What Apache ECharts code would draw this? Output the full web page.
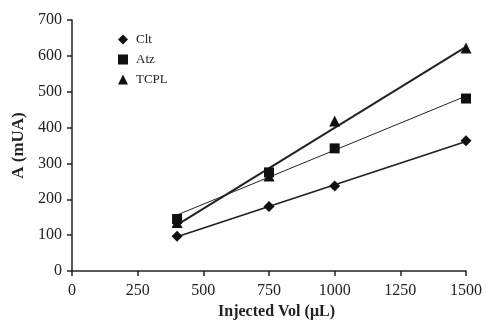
<!DOCTYPE html>
<html><head><meta charset="utf-8">
<script src="https://cdn.jsdelivr.net/npm/echarts@6/dist/echarts.min.js"></script>
<style>html,body{margin:0;padding:0;background:#fff}#c{width:486px;height:320px}</style>
</head><body><div id="c"></div>
<script>
const volumes = [400, 750, 1000, 1500];
const clt = [97, 180, 237, 363];
const atz = [145, 275, 342, 481];
const tcpl = [135, 265, 418, 622];
const xTicks = [0, 250, 500, 750, 1000, 1250, 1500];
const yTicks = [0, 100, 200, 300, 400, 500, 600, 700];

function fit(xs, ys) {
  const n = xs.length;
  const mx = xs.reduce((a, b) => a + b, 0) / n;
  const my = ys.reduce((a, b) => a + b, 0) / n;
  let sxy = 0, sxx = 0;
  for (let i = 0; i < n; i++) { sxy += (xs[i] - mx) * (ys[i] - my); sxx += (xs[i] - mx) ** 2; }
  const b = sxy / sxx, a = my - b * mx;
  const x0 = xs[0], x1 = xs[n - 1];
  return [[x0, a + b * x0], [x1, a + b * x1]];
}
const pts = (ys) => volumes.map((v, i) => [v, ys[i]]);
const diamond = 'path://M0,-1L1,0L0,1L-1,0Z';
const font = '"Liberation Serif", "DejaVu Serif", serif';
const mark = { color: '#111', opacity: 1 };

const chart = echarts.init(document.getElementById('c'));
chart.setOption({
  animation: false,
  textStyle: { fontFamily: font, color: '#222' },
  grid: { left: 72, right: 20, top: 20, bottom: 49, containLabel: false, outerBoundsMode: 'none' },
  legend: {
    orient: 'vertical', left: 113, top: 28, itemGap: 7, itemWidth: 10, itemHeight: 10,
    data: [
      { name: 'Clt', icon: diamond },
      { name: 'Atz', icon: 'rect' },
      { name: 'TCPL', icon: 'triangle' }
    ],
    itemStyle: { color: '#111', opacity: 1 },
    textStyle: { fontFamily: font, fontSize: 13, color: '#222', padding: [0, 0, 0, 3] }
  },
  xAxis: {
    type: 'value', min: 0, max: 1500, interval: 250,
    name: 'Injected Vol (μL)', nameLocation: 'middle', nameGap: 32,
    nameTextStyle: { fontFamily: font, fontSize: 16, fontWeight: 'bold', color: '#222', padding: [0, 0, 0, 15] },
    axisLine: { lineStyle: { color: '#222', width: 1.5 } },
    axisTick: { show: true, inside: false, length: 5, lineStyle: { color: '#222', width: 1.5 } },
    axisLabel: { fontFamily: font, fontSize: 16, color: '#222', margin: 12,
      formatter: v => xTicks.includes(v) ? String(v) : '' },
    splitLine: { show: false }
  },
  yAxis: {
    type: 'value', min: 0, max: 700, interval: 100,
    name: 'A (mUA)', nameLocation: 'middle', nameGap: 44, nameRotate: 90,
    nameTextStyle: { fontFamily: font, fontSize: 17, fontWeight: 'bold', color: '#222' },
    axisLine: { show: true, lineStyle: { color: '#222', width: 1.5 } },
    axisTick: { show: true, inside: false, length: 5, lineStyle: { color: '#222', width: 1.5 } },
    axisLabel: { fontFamily: font, fontSize: 16, color: '#222', margin: 10,
      formatter: v => yTicks.includes(v) ? String(v) : '' },
    splitLine: { show: false }
  },
  series: [
    { name: 'Clt fit', type: 'line', data: fit(volumes, clt), symbol: 'none', lineStyle: { color: '#222', width: 1.8 }, z: 1 },
    { name: 'Atz fit', type: 'line', data: fit(volumes, atz), symbol: 'none', lineStyle: { color: '#222', width: 1 }, z: 1 },
    { name: 'TCPL fit', type: 'line', data: fit(volumes, tcpl), symbol: 'none', lineStyle: { color: '#222', width: 2 }, z: 1 },
    { name: 'Clt', type: 'scatter', data: pts(clt), symbol: diamond, symbolSize: 11, itemStyle: mark, z: 3 },
    { name: 'Atz', type: 'scatter', data: pts(atz), symbol: 'rect', symbolSize: 10, itemStyle: mark, z: 3 },
    { name: 'TCPL', type: 'scatter', data: pts(tcpl), symbol: 'triangle', symbolSize: 11, itemStyle: mark, z: 3 }
  ]
});
</script></body></html>
